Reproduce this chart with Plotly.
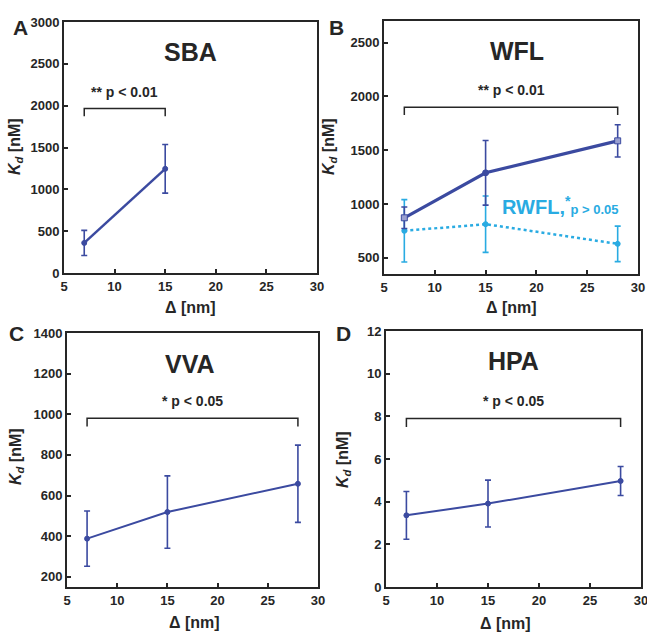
import plotly.graph_objects as go

W, H = 647, 632

# ---------------- data ----------------
delta_sba = [7, 15]
kd_sba = [360, 1245]
err_sba = [150, 290]

delta_wfl = [7, 15, 28]
kd_wfl = [872, 1290, 1587]
err_wfl = [100, 300, 150]

delta_rwfl = [7, 15, 28]
kd_rwfl = [751, 813, 630]
err_rwfl = [290, 262, 165]

delta_vva = [7, 15, 28]
kd_vva = [388, 519, 658]
err_vva = [136, 178, 190]

delta_hpa = [7, 15, 28]
kd_hpa = [3.36, 3.91, 4.97]
err_hpa = [1.12, 1.1, 0.68]

# significance brackets: (x start, x end, bracket y, tick bottom y, label)
br_sba = [7, 15, 1966, 1874, "** p < 0.01"]
br_wfl = [7, 28, 1900, 1826, "** p < 0.01"]
br_vva = [7, 28, 981, 940, "* p < 0.05"]
br_hpa = [7, 28, 7.9, 7.5, "* p < 0.05"]

panel_titles = ["SBA", "WFL", "VVA", "HPA"]
panel_letters = ["A", "B", "C", "D"]

DARK = "#3b4aa0"
LIGHT = "#29abe2"
INK = "#262626"
FONT = "Liberation Sans, Arial, sans-serif"

def px(x):
    return x / W

def py(y):
    return 1 - y / H

# panel boxes in pixels: (left, top, right, bottom)
boxes = [(64, 22, 317, 273), (384, 21, 638, 274),
         (67, 333, 318, 587), (386, 331, 641, 587)]
yranges = [[0, 3000], [350, 2700], [150, 1400], [0, 12]]
ydticks = [500, 500, 200, 2]

fig = go.Figure()
layout = {}
for i, (l, t, r, b) in enumerate(boxes):
    sx = "" if i == 0 else str(i + 1)
    layout["xaxis" + sx] = dict(
        domain=[px(l), px(r)], anchor="y" + sx, range=[5, 30], dtick=5,
        automargin=False, ticklabeloverflow="allow",
        showline=True, mirror=True, linecolor=INK, linewidth=2,
        ticks="inside", ticklen=4, tickwidth=1.5, tickcolor=INK,
        showgrid=False, zeroline=False,
        tickfont=dict(family=FONT, size=13, color=INK, weight="bold"))
    layout["yaxis" + sx] = dict(
        domain=[py(b), py(t)], anchor="x" + sx, range=yranges[i], dtick=ydticks[i],
        automargin=False, ticklabeloverflow="allow",
        showline=True, mirror=True, linecolor=INK, linewidth=2,
        ticks="inside", ticklen=4, tickwidth=1.5, tickcolor=INK,
        showgrid=False, zeroline=False,
        tickfont=dict(family=FONT, size=13, color=INK, weight="bold"))

def add_series(i, x, y, e, color, width, dash="solid", msize=5, symbol="circle",
               mcolor=None):
    sx = "" if i == 0 else str(i + 1)
    fig.add_trace(go.Scatter(
        x=x, y=y, mode="lines+markers", xaxis="x" + sx, yaxis="y" + sx,
        line=dict(color=color, width=width, dash=dash),
        marker=dict(color=mcolor or color, size=msize, symbol=symbol,
                    line=dict(color=color, width=1)),
        error_y=dict(type="data", array=e, visible=True, color=color,
                     thickness=1.6, width=3),
        showlegend=False, cliponaxis=False))

add_series(0, delta_sba, kd_sba, err_sba, DARK, 2.5)
add_series(1, delta_rwfl, kd_rwfl, err_rwfl, LIGHT, 2.5, dash="dot")
add_series(1, delta_wfl, kd_wfl, err_wfl, DARK, 3.2, msize=6,
           symbol=["square", "circle", "square"],
           mcolor=["#9aa0d0", DARK, "#9aa0d0"])
add_series(2, delta_vva, kd_vva, err_vva, DARK, 2)
add_series(3, delta_hpa, kd_hpa, err_hpa, DARK, 2)

annotations = []
for i, br in enumerate([br_sba, br_wfl, br_vva, br_hpa]):
    sx = "" if i == 0 else str(i + 1)
    x0, x1, yb, yt, label = br
    fig.add_trace(go.Scatter(
        x=[x0, x0, x1, x1], y=[yt, yb, yb, yt], mode="lines",
        xaxis="x" + sx, yaxis="y" + sx,
        line=dict(color=INK, width=1.5), showlegend=False, hoverinfo="skip"))
    annotations.append(dict(
        x=(x0 + x1) / 2, y=yb, xref="x" + sx, yref="y" + sx, text=label,
        showarrow=False, yanchor="middle", yshift=17,
        font=dict(family=FONT, size=14, color=INK, weight="bold")))

title_pos = [(190, 52), (517, 51), (190, 364), (513, 361)]
letter_pos = [(20, 27), (336, 27), (16, 333), (343, 333)]
ylab_pos = [(15, 147), (329, 147), (16, 457), (343, 460)]
xlab_pos = [(190, 308), (511, 308), (194, 622), (505, 623)]

for i in range(4):
    tx, ty = title_pos[i]
    annotations.append(dict(x=px(tx), y=py(ty), xref="paper", yref="paper",
                            text=panel_titles[i], showarrow=False,
                            xanchor="center", yanchor="middle",
                            font=dict(family=FONT, size=25, color=INK, weight="bold")))
    lx, ly = letter_pos[i]
    annotations.append(dict(x=px(lx), y=py(ly), xref="paper", yref="paper",
                            text=panel_letters[i], showarrow=False,
                            xanchor="center", yanchor="middle",
                            font=dict(family=FONT, size=21, color=INK, weight="bold")))
    yx, yy = ylab_pos[i]
    annotations.append(dict(x=px(yx), y=py(yy), xref="paper", yref="paper",
                            text="<i>K</i><sub><i>d</i></sub> [nM]", showarrow=False,
                            textangle=-90, xanchor="center", yanchor="middle",
                            font=dict(family=FONT, size=16, color=INK, weight="bold")))
    xx, xy = xlab_pos[i]
    annotations.append(dict(x=px(xx), y=py(xy), xref="paper", yref="paper",
                            text="Δ [nm]", showarrow=False,
                            xanchor="center", yanchor="middle",
                            font=dict(family=FONT, size=16, color=INK, weight="bold")))

annotations.append(dict(x=px(500), y=py(206), xref="paper", yref="paper",
                        text="RWFL,<sup>*</sup><span style='font-size:13px'>p > 0.05</span>",
                        showarrow=False, xanchor="left", yanchor="middle",
                        font=dict(family=FONT, size=20, color=LIGHT, weight="bold")))

fig.update_layout(width=W, height=H, margin=dict(l=0, r=0, t=0, b=0),
                  paper_bgcolor="white", plot_bgcolor="white",
                  annotations=annotations, **layout)

fig.write_html("out.html", config={"displayModeBar": False},
               post_script="document.body.style.margin='0';document.body.style.overflow='hidden';")
